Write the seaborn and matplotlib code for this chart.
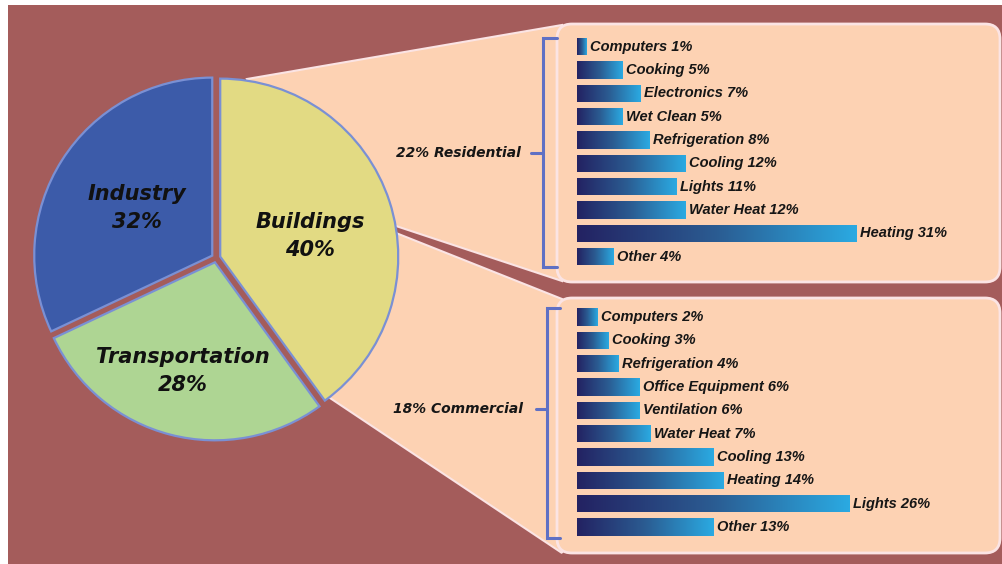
import numpy as np
import pandas as pd
import seaborn as sns
import matplotlib
matplotlib.use("Agg")
import matplotlib.pyplot as plt
from matplotlib.patches import FancyBboxPatch, Polygon, Rectangle
from matplotlib.lines import Line2D
from matplotlib.transforms import IdentityTransform
from matplotlib.colors import LinearSegmentedColormap

# ---------------- data ----------------
sectors = ["Buildings", "Transportation", "Industry"]
sector_shares = [40, 28, 32]

group_names = ["Residential", "Commercial"]
group_shares = [22, 18]

res_uses = ["Computers", "Cooking", "Electronics", "Wet Clean", "Refrigeration",
            "Cooling", "Lights", "Water Heat", "Heating", "Other"]
res_shares = [1, 5, 7, 5, 8, 12, 11, 12, 31, 4]

com_uses = ["Computers", "Cooking", "Refrigeration", "Office Equipment", "Ventilation",
            "Water Heat", "Cooling", "Heating", "Lights", "Other"]
com_shares = [2, 3, 4, 6, 6, 7, 13, 14, 26, 13]

# ---------------- style ----------------
sns.set_theme(style="white")
plt.rcParams["font.family"] = ["DejaVu Sans"]

W, H = 1002, 564
MAROON = "#A45C5B"
PEACH = "#FDD2B3"
PANEL_EDGE = "#FBE4E4"
SECTOR_COLORS = ["#E2DA83", "#AED593", "#3C5BA9"]
PIE_EDGE = "#7A90D4"
BRACKET = "#5F70C4"
BAR_CMAP = LinearSegmentedColormap.from_list("bar", ["#232262", "#2B5C92", "#2AAAE2"])

fig = plt.figure(figsize=(W / 100, H / 100), dpi=100)
fig.patch.set_facecolor("white")
PIX = IdentityTransform()


def P(x, y):
    """pixel coords (y from top) -> display coords"""
    return (x, H - y)


# background
fig.add_artist(Rectangle(P(8, H), W - 8, H - 5, transform=PIX,
                         facecolor=MAROON, edgecolor="none", zorder=-5))

# zoom wedges
top_wedge = [P(247, 79), P(562, 25), P(562, 281), P(396, 226), P(300, 180)]
bot_wedge = [P(396, 233), P(562, 299), P(562, 553), P(330, 398), P(320, 300)]
for pts in (top_wedge, bot_wedge):
    fig.add_artist(Polygon(pts, closed=True, transform=PIX, facecolor=PEACH,
                           edgecolor=PANEL_EDGE, linewidth=1.5, zorder=-4))

# panels
for (x0, y0, x1, y1) in [(557, 24, 1000, 282), (557, 298, 1000, 553)]:
    fig.add_artist(FancyBboxPatch(P(x0, y1), x1 - x0, y1 - y0,
                                  boxstyle="round,pad=0,rounding_size=15",
                                  transform=PIX, facecolor=PEACH,
                                  edgecolor=PANEL_EDGE, linewidth=2, zorder=-3))

# ---------------- pie ----------------
cx, cy, rx, ry = 216, 258, 178, 178
pax = fig.add_axes([(cx - 1.25 * rx) / W, 1 - (cy + 1.25 * ry) / H,
                    2.5 * rx / W, 2.5 * ry / H])
pax.set_facecolor("none")
pax.pie(sector_shares, colors=SECTOR_COLORS, startangle=90, counterclock=False,
        explode=[0.025] * len(sector_shares),
        wedgeprops=dict(edgecolor=PIE_EDGE, linewidth=1.6))
pax.set_aspect("auto")
pax.set_xlim(-1.25, 1.25)
pax.set_ylim(-1.25, 1.25)
pax.axis("off")

label_pos = [(0.528, 0.121), (-0.185, -0.635), (-0.444, 0.281)]
for name, share, (tx, ty) in zip(sectors, sector_shares, label_pos):
    pax.text(tx, ty, f"{name}\n{share}%", ha="center", va="center",
             fontsize=15, fontweight="bold", fontstyle="italic",
             family="DejaVu Sans", linespacing=1.5, color="#111111")


# ---------------- bars ----------------
def gradient_bars(ax, uses, shares, xmax):
    df = pd.DataFrame({"use": uses, "share": shares})
    sns.barplot(data=df, x="share", y="use", orient="h", ax=ax, width=0.75,
                color="#2B5C92", edgecolor="none", order=uses)
    grad = np.linspace(0, 1, 256).reshape(1, -1)
    for patch in list(ax.patches):
        x0, y0 = patch.get_x(), patch.get_y()
        w, h = patch.get_width(), patch.get_height()
        im = ax.imshow(grad, cmap=BAR_CMAP, aspect="auto",
                       extent=[x0, x0 + w, y0 + h, y0], zorder=3)
        im.set_clip_path(patch)
    for i, (u, v) in enumerate(zip(uses, shares)):
        ax.annotate(f"{u} {v}%", xy=(v, i), xytext=(2.5, 0), textcoords="offset points",
                    ha="left", va="center", fontsize=10.5, fontweight="bold",
                    fontstyle="italic", family="Liberation Sans", color="#161616",
                    annotation_clip=False)
    ax.set_xlim(0, xmax)
    ax.set_ylim(len(uses) - 0.5, -0.5)
    ax.set_facecolor("none")
    ax.axis("off")


bar_left, bar_w = 577, 420
# residential: rows centred at 46.7 .. 256.5 px, 9.03 px per %
ax1 = fig.add_axes([bar_left / W, 1 - 268.3 / H, bar_w / W, 233.3 / H])
gradient_bars(ax1, res_uses, res_shares, bar_w / 9.03)
# commercial: rows centred at 317 .. 527 px, 10.5 px per %
ax2 = fig.add_axes([bar_left / W, 1 - 538.7 / H, bar_w / W, 233.3 / H])
gradient_bars(ax2, com_uses, com_shares, bar_w / 10.5)

# ---------------- brackets & group labels ----------------
brackets = [
    dict(x=543, top=38, bot=267, mid=153, right=557, tick=531, lab=521),
    dict(x=547, top=308, bot=538, mid=409, right=560, tick=536, lab=523),
]
for b, name, share in zip(brackets, group_names, group_shares):
    xs = [b["right"], b["x"], b["x"], b["right"]]
    ys = [b["top"], b["top"], b["bot"], b["bot"]]
    pts = [P(x, y) for x, y in zip(xs, ys)]
    fig.add_artist(Line2D([p[0] for p in pts], [p[1] for p in pts], transform=PIX,
                          color=BRACKET, linewidth=2.2, solid_joinstyle="miter", zorder=2))
    p1, p2 = P(b["tick"], b["mid"]), P(b["x"], b["mid"])
    fig.add_artist(Line2D([p1[0], p2[0]], [p1[1], p2[1]], transform=PIX,
                          color=BRACKET, linewidth=2.2, zorder=2))
    lp = P(b["lab"], b["mid"])
    fig.text(lp[0] / W, lp[1] / H, f"{share}% {name}", ha="right", va="center",
             fontsize=10, fontweight="bold", fontstyle="italic",
             family="DejaVu Sans", color="#161616")

fig.savefig("out.png", dpi=100, facecolor=fig.get_facecolor())
